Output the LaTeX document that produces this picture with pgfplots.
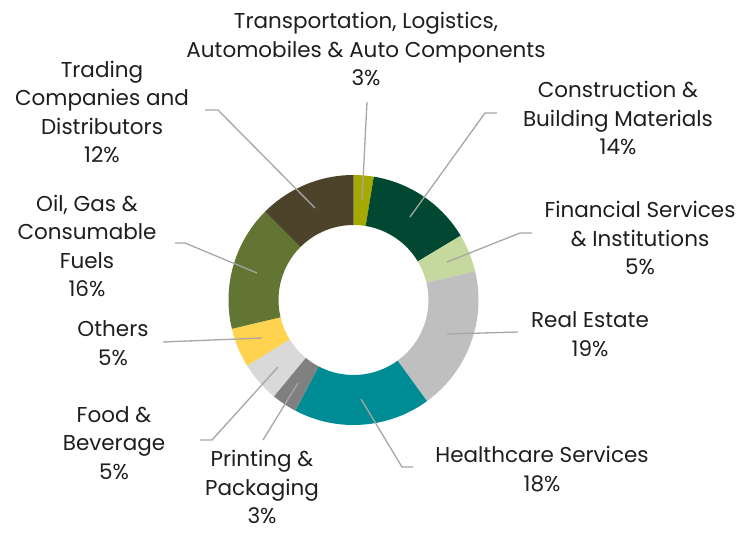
\documentclass[border=0pt]{standalone}
\usepackage{fontspec}
\setmainfont{Poppins}
\usepackage{pgfplots}
\pgfplotsset{compat=1.18}
\definecolor{cTrans}{RGB}{166,170,0}
\definecolor{cCons}{RGB}{0,72,50}
\definecolor{cFin}{RGB}{197,217,158}
\definecolor{cReal}{RGB}{191,191,191}
\definecolor{cHealth}{RGB}{0,140,149}
\definecolor{cPrint}{RGB}{128,128,128}
\definecolor{cFood}{RGB}{217,217,217}
\definecolor{cOther}{RGB}{255,210,80}
\definecolor{cOil}{RGB}{98,117,50}
\definecolor{cTrade}{RGB}{77,67,42}
\definecolor{leader}{RGB}{166,166,166}
\definecolor{txt}{RGB}{30,30,30}
\newcommand\lab{\fontsize{21.5}{28.5}\selectfont}

\begin{document}
\begin{tikzpicture}
\begin{axis}[
    width=745pt, height=533pt, scale only axis,
    xmin=0, xmax=745, ymin=0, ymax=533, y dir=reverse,
    hide axis, clip=false,
]
% donut: share of each sector (%), clockwise from 12 o'clock
\def\cx{353.5}\def\cy{300}
\def\R{125}\def\r{75}
\gdef\cum{0}
\foreach \v/\c in {2.6/cTrans, 13.8/cCons, 4.9/cFin, 18.7/cReal, 17.7/cHealth,
                   3.3/cPrint, 5.2/cFood, 5.1/cOther, 16.2/cOil, 12.5/cTrade}{
    \pgfmathsetmacro\aone{90-3.6*\cum}
    \pgfmathsetmacro\cumnew{\cum+\v}
    \pgfmathsetmacro\atwo{90-3.6*\cumnew}
    \xdef\cum{\cumnew}
    \edef\temp{\noexpand\fill[\c] ([shift={(\aone:\R pt)}]axis cs:\cx,\cy)
        arc[start angle=\aone, end angle=\atwo, radius=\R pt]
        -- ([shift={(\atwo:\r pt)}]axis cs:\cx,\cy)
        arc[start angle=\atwo, end angle=\aone, radius=\r pt] -- cycle;}
    \temp
}

% leader lines
\begin{scope}[leader, line width=1.3pt]
\draw (axis cs:367,102) -- (axis cs:362,200);
\draw (axis cs:497,113) -- (axis cs:485,113) -- (axis cs:410,217);
\draw (axis cs:532,233) -- (axis cs:520,233) -- (axis cs:447,262);
\draw (axis cs:518,332) -- (axis cs:447,334);
\draw (axis cs:413,467) -- (axis cs:402,467) -- (axis cs:361,399);
\draw (axis cs:263,440) -- (axis cs:298,383);
\draw (axis cs:200,440) -- (axis cs:212,440) -- (axis cs:278,367);
\draw (axis cs:163,342) -- (axis cs:262,338);
\draw (axis cs:175,243) -- (axis cs:185,243) -- (axis cs:257,273);
\draw (axis cs:205,110) -- (axis cs:218,110) -- (axis cs:315,208);
\end{scope}

% labels
\begin{scope}[every node/.style={align=center, font=\lab, text=txt, inner sep=0pt}]
\node at (axis cs:366,49) {Transportation, Logistics,\\Automobiles \& Auto Components\\3\%};
\node at (axis cs:618,118) {Construction \&\\Building Materials\\14\%};
\node at (axis cs:640,238) {Financial Services\\\& Institutions\\5\%};
\node at (axis cs:590,334) {Real Estate\\19\%};
\node at (axis cs:542,469) {Healthcare Services\\18\%};
\node at (axis cs:262,487) {Printing \&\\Packaging\\3\%};
\node at (axis cs:114,443) {Food \&\\Beverage\\5\%};
\node at (axis cs:113,343) {Others\\5\%};
\node at (axis cs:87,246) {Oil, Gas \&\\Consumable\\Fuels\\16\%};
\node at (axis cs:102,112) {Trading\\Companies and\\Distributors\\12\%};
\end{scope}
\end{axis}
\pgfresetboundingbox
\path (0,0) rectangle (745pt,533pt);
\end{tikzpicture}
\end{document}
